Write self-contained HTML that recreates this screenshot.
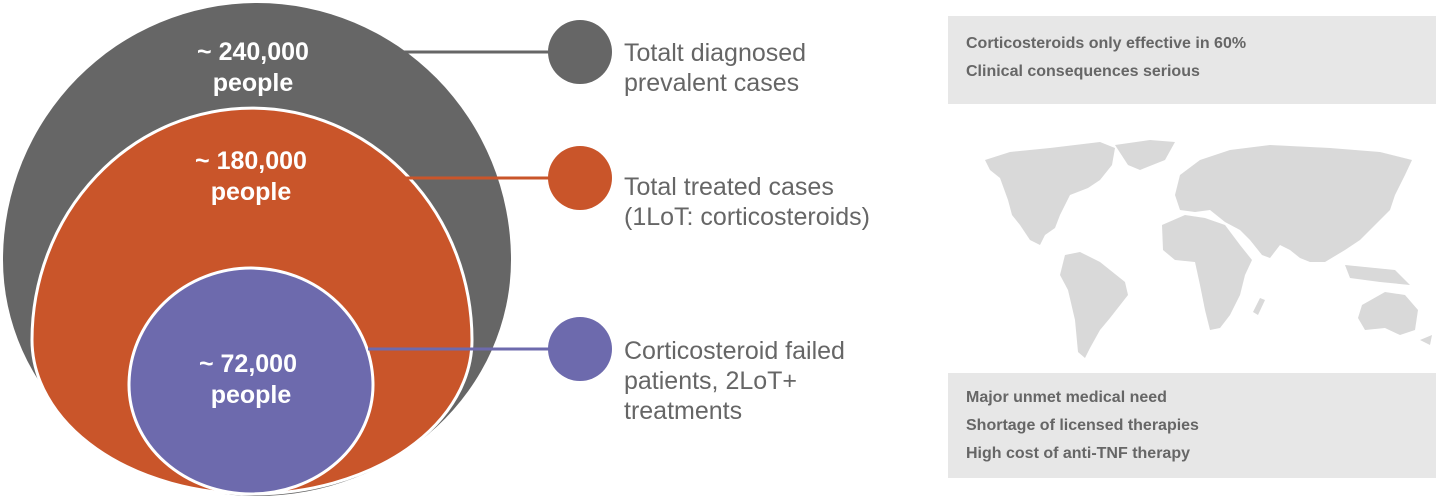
<!DOCTYPE html>
<html><head><meta charset="utf-8"><style>
body{margin:0;width:1440px;height:499px;overflow:hidden;background:#fff;font-family:"Liberation Sans",Arial,sans-serif;position:relative}
.box{position:absolute;left:948px;width:488px;background:#e7e7e7;color:#666;font-weight:bold;font-size:16px}
.box div{position:absolute;left:18px;white-space:nowrap}
</style></head><body>
<svg width="1440" height="499" style="position:absolute;left:0;top:0">
<path d="M3,260 A254 257 0 0 1 511,260 A254 236 0 0 1 3,260 Z" fill="#666"/>
<path d="M32,340 A220 232 0 0 1 472,340 A220 154 0 0 1 32,340 Z" fill="#c9552a" stroke="#fff" stroke-width="3"/>
<path d="M129,385 A122 117 0 0 1 373,385 A122 109 0 0 1 129,385 Z" fill="#6d6aad" stroke="#fff" stroke-width="3"/>
<line x1="400" y1="52" x2="555" y2="52" stroke="#666" stroke-width="3"/>
<line x1="400" y1="178" x2="555" y2="178" stroke="#c9552a" stroke-width="3"/>
<line x1="368" y1="349" x2="555" y2="349" stroke="#6d6aad" stroke-width="3"/>
<circle cx="580" cy="52" r="32" fill="#666"/>
<circle cx="580" cy="178" r="32" fill="#c9552a"/>
<circle cx="580" cy="349" r="32" fill="#6d6aad"/>
<g fill="#fff" font-weight="bold" font-size="25" text-anchor="middle" font-family="Liberation Sans,Arial,sans-serif">
<text x="253" y="60">~ 240,000</text><text x="253" y="91">people</text>
<text x="251" y="169">~ 180,000</text><text x="251" y="200">people</text>
<text x="248" y="372">~ 72,000</text><text x="251" y="403">people</text>
</g>
<g fill="#666" font-size="25" font-family="Liberation Sans,Arial,sans-serif">
<text x="624" y="61">Totalt diagnosed</text><text x="624" y="91">prevalent cases</text>
<text x="624" y="195">Total treated cases</text><text x="624" y="225">(1LoT: corticosteroids)</text>
<text x="624" y="359">Corticosteroid failed</text><text x="624" y="389">patients, 2LoT+</text><text x="624" y="419">treatments</text>
</g>
<g fill="#d9d9d9">
<path d="M985,160 L1010,152 L1050,148 L1100,142 L1115,148 L1112,165 L1100,180 L1088,188 L1070,195 L1065,205 L1060,215 L1055,228 L1045,235 L1040,245 L1030,240 L1020,225 L1012,215 L1008,200 L1000,178 L990,170 Z"/>
<path d="M1115,145 L1150,140 L1175,142 L1165,160 L1140,170 L1128,165 Z"/>
<path d="M1065,255 L1080,252 L1100,262 L1125,282 L1128,295 L1110,318 L1100,330 L1090,348 L1085,358 L1078,352 L1075,320 L1068,290 L1060,275 Z"/>
<path d="M1175,195 L1180,175 L1200,160 L1230,150 L1270,145 L1330,148 L1380,152 L1412,160 L1405,175 L1395,195 L1390,210 L1375,225 L1360,240 L1345,250 L1325,262 L1310,262 L1300,258 L1290,250 L1280,245 L1270,258 L1262,255 L1250,240 L1240,230 L1225,222 L1210,210 L1195,212 L1180,210 Z"/>
<path d="M1162,225 L1185,215 L1205,218 L1225,225 L1240,245 L1252,260 L1245,275 L1240,295 L1230,315 L1220,328 L1210,330 L1205,310 L1200,285 L1195,262 L1175,260 L1163,250 Z"/>
<path d="M1260,298 L1265,300 L1258,315 L1253,312 Z"/>
<path d="M1345,265 L1395,270 L1410,285 L1380,282 L1350,278 Z"/>
<path d="M1362,305 L1385,292 L1405,295 L1418,310 L1415,330 L1400,335 L1385,328 L1365,330 L1358,318 Z"/>
<path d="M1420,340 L1432,335 L1430,345 Z"/>
</g>
</svg>
<div class="box" style="top:16px;height:88px"><div style="top:19px">Corticosteroids only effective in 60%</div><div style="top:47px">Clinical consequences serious</div></div>
<div class="box" style="top:373px;height:105px"><div style="top:16px">Major unmet medical need</div><div style="top:44px">Shortage of licensed therapies</div><div style="top:72px">High cost of anti-TNF therapy</div></div>
</body></html>
